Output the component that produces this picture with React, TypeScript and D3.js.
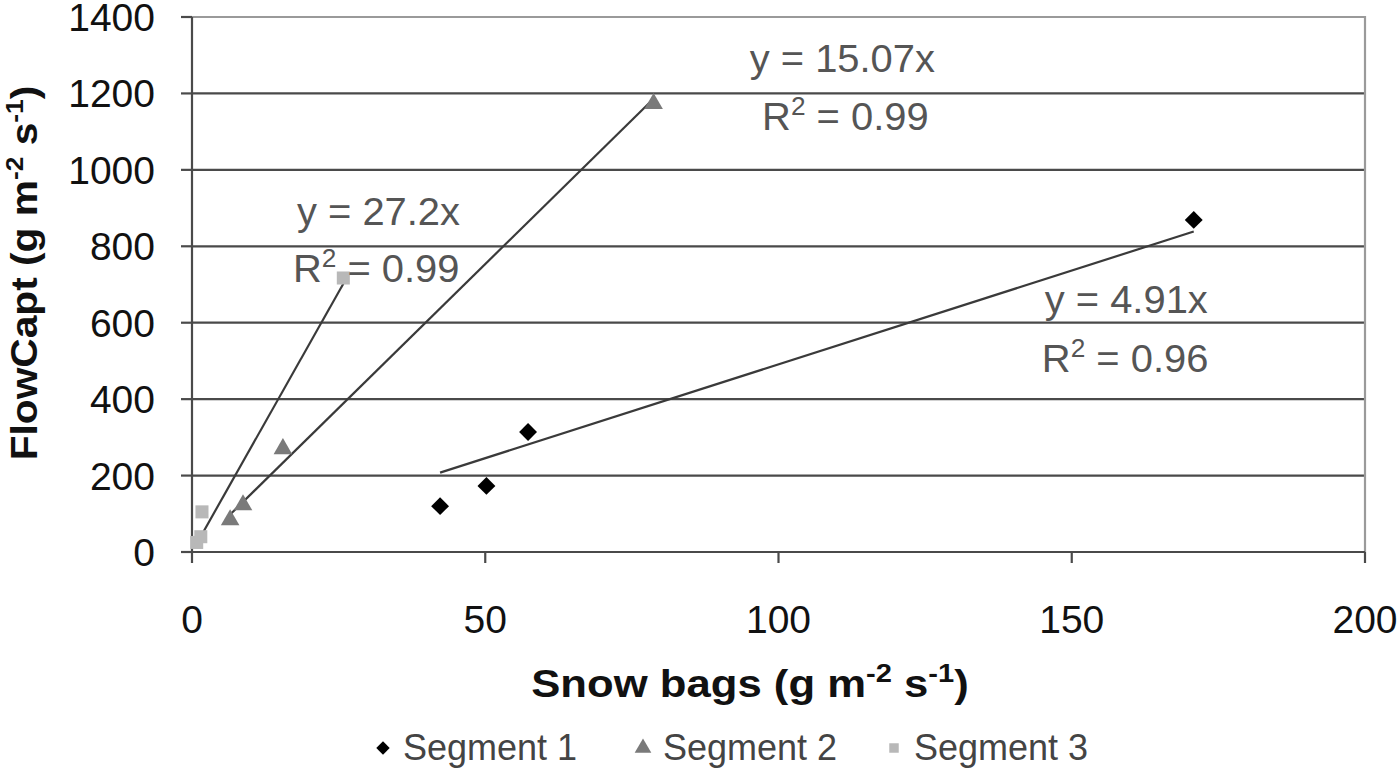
import React, { useEffect, useRef } from "react";
import * as d3 from "d3";

const seg1X = [42.3, 50.2, 57.3, 170.8];
const seg1Y = [120, 173, 314, 869];
const seg2X = [6.5, 8.7, 15.5, 78.7];
const seg2Y = [84, 123, 270, 1173];
const seg3X = [0.8, 1.5, 1.7, 25.8];
const seg3Y = [25, 40, 105, 717];

const slopes = [4.91, 15.07, 27.2];
const r2 = ["0.96", "0.99", "0.99"];
const eqLabels = ["y = 4.91x", "y = 15.07x", "y = 27.2x"];
// label anchor positions in data units [x, y] for equation and R² lines
const eqPos = [
  [145.4, 625],
  [95.1, 1256],
  [17.9, 856],
];
const r2Pos = [
  [144.9, 471],
  [97.2, 1104],
  [17.2, 707],
];

const xTicks = [0, 50, 100, 150, 200];
const yTicks = [0, 200, 400, 600, 800, 1000, 1200, 1400];
const legendLabels = ["Segment 1", "Segment 2", "Segment 3"];

const W = 1400;
const H = 771;
const left = 192;
const right = 1365;
const top = 17;
const bottom = 552;

export default function App() {
  const ref = useRef<SVGSVGElement>(null);

  useEffect(() => {
    document.body.style.margin = "0";
    const svg = d3.select(ref.current);
    svg.selectAll("*").remove();

    const x = d3.scaleLinear().domain([0, 200]).range([left, right]);
    const y = d3.scaleLinear().domain([0, 1400]).range([bottom, top]);
    const font = "Liberation Sans, Arial, sans-serif";

    svg.append("rect").attr("width", W).attr("height", H).attr("fill", "#fff");

    // gridlines
    svg
      .append("g")
      .selectAll("line")
      .data(yTicks.filter((t) => t > 0 && t < 1400))
      .join("line")
      .attr("x1", left)
      .attr("x2", right)
      .attr("y1", (d) => y(d))
      .attr("y2", (d) => y(d))
      .attr("stroke", "#4a4a4a")
      .attr("stroke-width", 2.2);

    // plot border top/right
    svg
      .append("path")
      .attr("d", `M${left},${top}H${right}V${bottom}`)
      .attr("fill", "none")
      .attr("stroke", "#9a9a9a")
      .attr("stroke-width", 2.2);

    // axes
    const axisColor = "#4a4a4a";
    svg
      .append("line")
      .attr("x1", left)
      .attr("x2", right)
      .attr("y1", bottom)
      .attr("y2", bottom)
      .attr("stroke", axisColor)
      .attr("stroke-width", 2.2);
    svg
      .append("line")
      .attr("x1", left)
      .attr("x2", left)
      .attr("y1", top)
      .attr("y2", bottom)
      .attr("stroke", axisColor)
      .attr("stroke-width", 2.2);

    // y ticks
    svg
      .append("g")
      .selectAll("line")
      .data(yTicks)
      .join("line")
      .attr("x1", left - 11)
      .attr("x2", left)
      .attr("y1", (d) => y(d))
      .attr("y2", (d) => y(d))
      .attr("stroke", axisColor)
      .attr("stroke-width", 2.2);
    svg
      .append("g")
      .selectAll("text")
      .data(yTicks)
      .join("text")
      .attr("x", 155)
      .attr("y", (d) => y(d) + 14)
      .attr("text-anchor", "end")
      .attr("font-family", font)
      .attr("font-size", 39)
      .attr("fill", "#111")
      .text((d) => String(d));

    // x ticks
    svg
      .append("g")
      .selectAll("line")
      .data(xTicks)
      .join("line")
      .attr("x1", (d) => x(d))
      .attr("x2", (d) => x(d))
      .attr("y1", bottom)
      .attr("y2", bottom + 11)
      .attr("stroke", axisColor)
      .attr("stroke-width", 2.2);
    svg
      .append("g")
      .selectAll("text")
      .data(xTicks)
      .join("text")
      .attr("x", (d) => x(d))
      .attr("y", 633)
      .attr("text-anchor", "middle")
      .attr("font-family", font)
      .attr("font-size", 39)
      .attr("fill", "#111")
      .text((d) => String(d));

    // axis titles
    const xt = svg
      .append("g")
      .attr("transform", "translate(750,697) scale(1.12,1)")
      .append("text")
      .attr("text-anchor", "middle")
      .attr("font-family", font)
      .attr("font-weight", "bold")
      .attr("font-size", 39)
      .attr("fill", "#111");
    xt.append("tspan").text("Snow bags (g m");
    xt.append("tspan").attr("font-size", 26).attr("dy", -15).text("-2");
    xt.append("tspan").attr("dy", 15).text(" s");
    xt.append("tspan").attr("font-size", 26).attr("dy", -15).text("-1");
    xt.append("tspan").attr("dy", 15).text(")");

    const yt = svg
      .append("g")
      .attr("transform", "translate(37,273) rotate(-90) scale(1.1,1)")
      .append("text")
      .attr("text-anchor", "middle")
      .attr("font-family", font)
      .attr("font-weight", "bold")
      .attr("font-size", 37)
      .attr("fill", "#111");
    yt.append("tspan").text("FlowCapt (g m");
    yt.append("tspan").attr("font-size", 24).attr("dy", -14).text("-2");
    yt.append("tspan").attr("dy", 14).text(" s");
    yt.append("tspan").attr("font-size", 24).attr("dy", -14).text("-1");
    yt.append("tspan").attr("dy", 14).text(")");

    // trendlines
    const series = [
      { xs: seg1X, ys: seg1Y },
      { xs: seg2X, ys: seg2Y },
      { xs: seg3X, ys: seg3Y },
    ];
    series.forEach((s, i) => {
      const x0 = d3.min(s.xs) as number;
      const x1 = d3.max(s.xs) as number;
      const pts: [number, number][] = [
        [x0, slopes[i] * x0],
        [x1, slopes[i] * x1],
      ];
      svg
        .append("path")
        .attr(
          "d",
          d3
            .line<[number, number]>()
            .x((d) => x(d[0]))
            .y((d) => y(d[1]))(pts)
        )
        .attr("stroke", "#3a3a3a")
        .attr("stroke-width", 2.2)
        .attr("fill", "none");
    });

    // markers
    const sym = [d3.symbolSquare, d3.symbolTriangle, d3.symbolSquare];
    const rot = [45, 0, 0];
    const colors = ["#000000", "#7a7a7a", "#b8b8b8"];
    const sizes = [160, 150, 170];
    series.forEach((s, i) => {
      svg
        .append("g")
        .selectAll("path")
        .data(s.xs.map((v, j) => [v, s.ys[j]]))
        .join("path")
        .attr("transform", (d) => `translate(${x(d[0])},${y(d[1])}) rotate(${rot[i]})`)
        .attr("d", d3.symbol(sym[i], sizes[i])()!)
        .attr("fill", colors[i]);
    });

    // equation labels
    for (let i = 0; i < 3; i++) {
      svg
        .append("g")
        .attr("transform", `translate(${x(eqPos[i][0])},${y(eqPos[i][1])}) scale(1.05,1)`)
        .append("text")
        .attr("font-family", font)
        .attr("font-size", 38)
        .attr("fill", "#555")
        .text(eqLabels[i]);
      const t = svg
        .append("g")
        .attr("transform", `translate(${x(r2Pos[i][0])},${y(r2Pos[i][1])}) scale(1.05,1)`)
        .append("text")
        .attr("font-family", font)
        .attr("font-size", 38)
        .attr("fill", "#555");
      t.append("tspan").text("R");
      t.append("tspan").attr("font-size", 25).attr("dy", -15).text("2");
      t.append("tspan").attr("dy", 15).text(" = " + r2[i]);
    }

    // legend
    const legendX = [383, 643, 894];
    const lg = svg.append("g");
    legendLabels.forEach((lab, i) => {
      lg.append("path")
        .attr("transform", `translate(${legendX[i]},748) rotate(${rot[i]})`)
        .attr("d", d3.symbol(sym[i], i === 1 ? 120 : 90)()!)
        .attr("fill", colors[i]);
      lg.append("text")
        .attr("x", legendX[i] + 20)
        .attr("y", 760)
        .attr("font-family", font)
        .attr("font-size", 36)
        .attr("fill", "#444")
        .text(lab);
    });
  }, []);

  return (
    <svg
      ref={ref}
      width={W}
      height={H}
      style={{ position: "absolute", left: 0, top: 0, display: "block" }}
    />
  );
}
